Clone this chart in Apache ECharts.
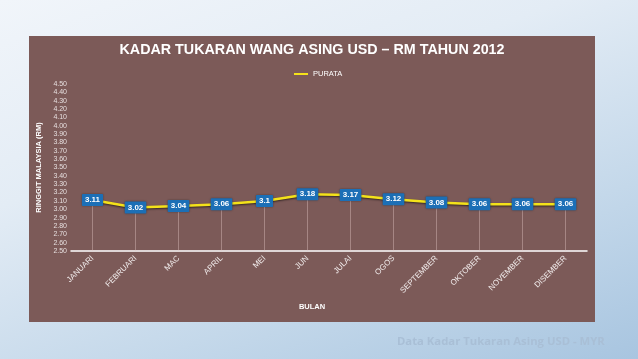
<!DOCTYPE html>
<html><head><meta charset="utf-8">
<script src="https://cdn.jsdelivr.net/npm/echarts@6/dist/echarts.min.js"></script>
<style>
html,body{margin:0;padding:0;width:638px;height:359px;overflow:hidden;
background:linear-gradient(160deg,#f1f5fa 0%,#e3ecf5 35%,#c4d8ea 70%,#a8c5e0 100%);}
#c{width:638px;height:359px;}
</style></head><body><div id="c"></div>
<script>
const categories = ['JANUARI','FEBRUARI','MAC','APRIL','MEI','JUN','JULAI','OGOS','SEPTEMBER','OKTOBER','NOVEMBER','DISEMBER'];
const purata = [3.11, 3.02, 3.04, 3.06, 3.1, 3.18, 3.17, 3.12, 3.08, 3.06, 3.06, 3.06];
const chartTitle = 'KADAR TUKARAN WANG ASING USD – RM TAHUN 2012';
const seriesName = 'PURATA';
const yName = 'RINGGIT MALAYSIA (RM)';
const xName = 'BULAN';
const footer = 'Data Kadar Tukaran Asing USD - MYR';

const chart = echarts.init(document.getElementById('c'), null, {renderer:'canvas'});
const font = 'Liberation Sans, Arial, sans-serif';
chart.setOption({
  backgroundColor: 'transparent',
  animation: false,
  graphic: [
    {type:'rect', z:-10, shape:{x:29,y:36,width:566,height:286}, style:{fill:'#7c5a58'}},
    {type:'text', x:312, y:50, style:{text:chartTitle, fill:'#ffffff', font:'bold 14.3px '+font, align:'center', verticalAlign:'middle'}},
    {type:'text', left:397, top:336, style:{text:footer, fill:'#a9bfd6', font:'bold 11.3px "Open Sans", sans-serif'}},
    {type:'text', x:312, y:307, style:{text:xName, fill:'#ffffff', font:'bold 7.5px '+font, align:'center', verticalAlign:'middle'}}
  ],
  legend: {data:[seriesName], top: 65, left: 289, itemWidth:14, itemHeight:2, itemGap:2,
    icon:'rect', textStyle:{color:'#ffffff', fontSize:7.5, fontFamily:font}},
  grid: {left:71, right:51, top:84, bottom:108},
  xAxis: {type:'category', data:categories, boundaryGap:true,
    axisLine:{lineStyle:{color:'#ffffff', width:1.5}}, axisTick:{show:false},
    axisLabel:{rotate:45, color:'#f0eaea', fontSize:8, fontFamily:font, margin:6, interval:0}},
  yAxis: {type:'value', min:2.5, max:4.5, interval:0.1,
    name: yName, nameLocation:'middle', nameGap:26, nameRotate:90,
    nameTextStyle:{color:'#ffffff', fontSize:7.5, fontWeight:'bold', fontFamily:font},
    axisLine:{show:false}, axisTick:{show:false}, splitLine:{show:false},
    axisLabel:{color:'#e6dede', fontSize:7, fontFamily:font, margin:4, formatter:v=>v.toFixed(2)}},
  series: [
    {type:'bar', data:purata, barWidth:1, silent:true, itemStyle:{color:'rgba(230,200,200,0.4)'}, z:1, legendHoverLink:false},
    {name:seriesName, type:'line', data:purata, symbol:'circle', symbolSize:2, showSymbol:true, z:5,
      lineStyle:{color:'#f4e21a', width:2.5, shadowColor:'rgba(0,0,0,0.6)', shadowBlur:2, shadowOffsetY:1},
      itemStyle:{color:'#f4e21a'},
      label:{show:true, position:'inside', color:'#ffffff', fontWeight:'bold', fontSize:8, fontFamily:font,
        backgroundColor:'#1c6fb6', padding:[2,3,2,3], borderRadius:1,
        shadowColor:'rgba(0,0,0,0.4)', shadowBlur:2}}
  ]
});
</script></body></html>
